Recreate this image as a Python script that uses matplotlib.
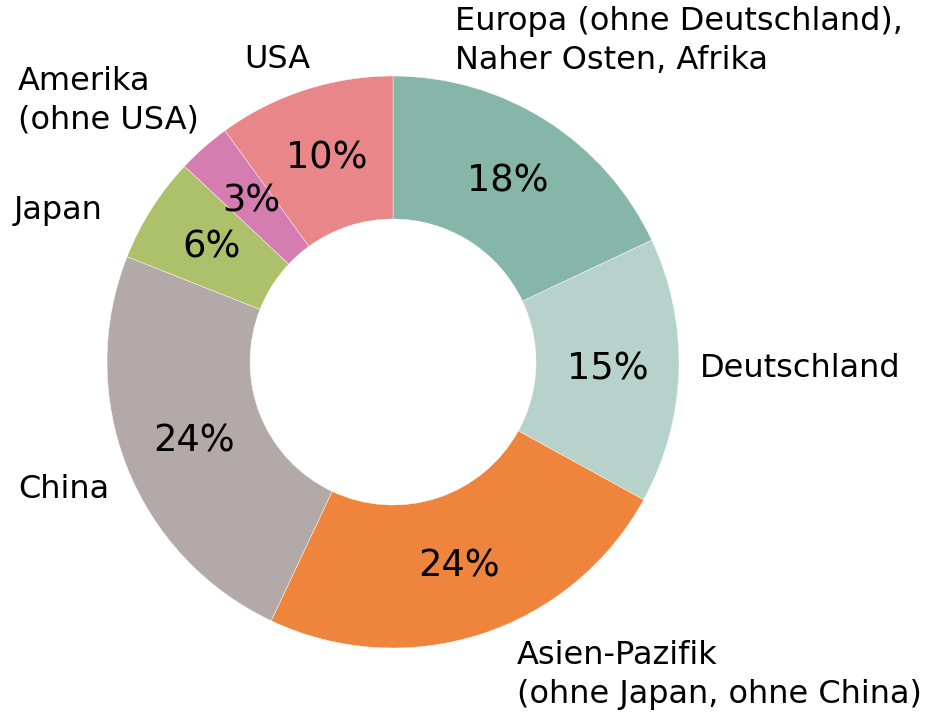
import matplotlib.pyplot as plt

# Regionen im Uhrzeigersinn ab 12 Uhr
regionen = [
    "Europa (ohne Deutschland),\nNaher Osten, Afrika",
    "Deutschland",
    "Asien-Pazifik\n(ohne Japan, ohne China)",
    "China",
    "Japan",
    "Amerika\n(ohne USA)",
    "USA",
]
anteile = [18, 15, 24, 24, 6, 3, 10]
farben = ["#85b6a8", "#b7d2ca", "#ef843c", "#b3a9a8", "#adc16a", "#d57cb1", "#e9868a"]

# Beschriftungspositionen in Pixeln (x, y von oben) und Ausrichtung
label_pos = [
    (455, 41, "left"),
    (700, 368, "left"),
    (517, 675, "left"),
    (18, 490, "left"),
    (14, 210, "left"),
    (18, 101, "left"),
    (277, 60, "center"),
]

W, H = 939, 712
cx, cy, r = 393, 362, 286

plt.rcParams['font.family'] = ['DejaVu Sans']
fig = plt.figure(figsize=(W / 100, H / 100), dpi=100)
ax = fig.add_axes([(cx - r) / W, (H - cy - r) / H, 2 * r / W, 2 * r / H])

wedges, texts, autotexts = ax.pie(
    anteile,
    colors=farben,
    startangle=90,
    counterclock=False,
    radius=1.0,
    autopct=lambda p: f"{p:.0f}%",
    pctdistance=0.75,
    wedgeprops=dict(width=0.5, edgecolor="white", linewidth=0.3),
    textprops=dict(fontsize=26.5, color="black"),
)
ax.set_xlim(-1, 1)
ax.set_ylim(-1, 1)
ax.set_aspect("equal")
ax.axis("off")

for name, (x, y, ha) in zip(regionen, label_pos):
    fig.text(x / W, 1 - y / H, name, ha=ha, va="center", fontsize=23,
             linespacing=1.3)

fig.savefig("out.png", dpi=100)
